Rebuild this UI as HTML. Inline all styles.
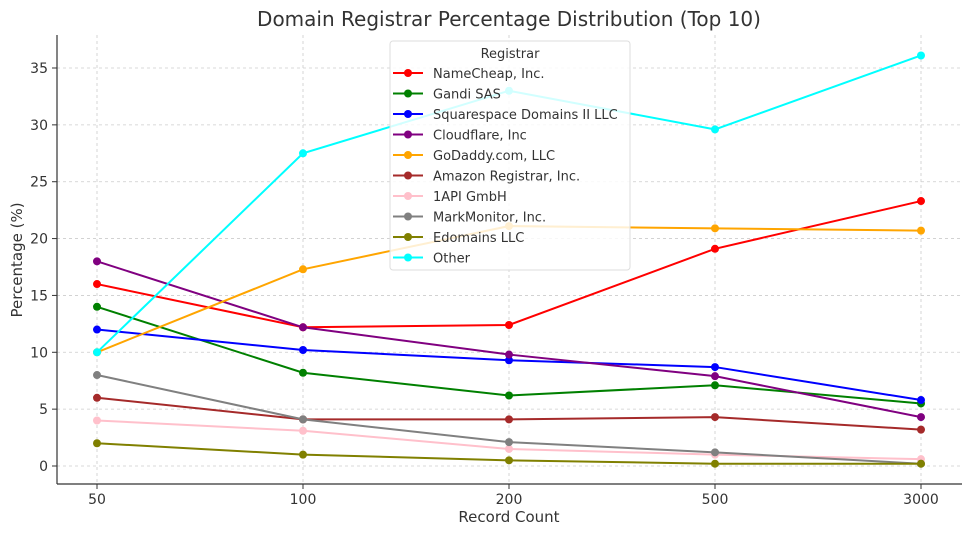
<!DOCTYPE html>
<html><head><meta charset="utf-8"><style>
body{margin:0;background:#fff;font-family:"Liberation Sans","DejaVu Sans",sans-serif}
svg text{font-family:"DejaVu Sans","Liberation Sans",sans-serif}
</style></head><body>
<svg id="c" width="972" height="536" xmlns="http://www.w3.org/2000/svg"></svg>
<script>
const categories=["50","100","200","500","3000"];
const yTicks=[0,5,10,15,20,25,30,35];
const seriesNames=["NameCheap, Inc.","Gandi SAS","Squarespace Domains II LLC","Cloudflare, Inc","GoDaddy.com, LLC","Amazon Registrar, Inc.","1API GmbH","MarkMonitor, Inc.","Edomains LLC","Other"];
const seriesColors=["#ff0000","#008000","#0000ff","#800080","#ffa500","#a52a2a","#ffc0cb","#808080","#808000","#00ffff"];
const nameCheap=[16,12.2,12.4,19.1,23.3];
const gandi=[14,8.2,6.2,7.1,5.5];
const squarespace=[12,10.2,9.3,8.7,5.8];
const cloudflare=[18,12.2,9.8,7.9,4.3];
const goDaddy=[10,17.3,21.1,20.9,20.7];
const amazon=[6,4.1,4.1,4.3,3.2];
const oneApi=[4,3.1,1.5,1.0,0.6];
const markMonitor=[8,4.1,2.1,1.2,0.2];
const edomains=[2,1.0,0.5,0.2,0.2];
const other=[10,27.5,33,29.6,36.1];
const seriesValues=[nameCheap,gandi,squarespace,cloudflare,goDaddy,amazon,oneApi,markMonitor,edomains,other];

const svg=document.getElementById('c');const NS="http://www.w3.org/2000/svg";
function mk(t,a,p){const e=document.createElementNS(NS,t);for(const k in a)e.setAttribute(k,a[k]);(p||svg).appendChild(e);return e;}
const L=57,R=962,T=35,B=484;
const x0=97,x1=921;
function xs(i){return x0+(x1-x0)*i/(categories.length-1);}
function ys(v){return 466-v*(466-68)/35;}
let t;
t=mk('text',{x:509,y:26,'text-anchor':'middle','font-size':20,fill:'#333'});t.textContent="Domain Registrar Percentage Distribution (Top 10)";


const grid=mk('g',{});


yTicks.forEach(v=>{const y=ys(v);mk('line',{x1:L,x2:R,y1:y,y2:y,stroke:'#ccc','stroke-dasharray':'3,3','stroke-width':0.8},grid);
mk('line',{x1:L-5,x2:L,y1:y,y2:y,stroke:'#333'});
const tx=mk('text',{x:L-9,y:y+5,'text-anchor':'end','font-size':14,fill:'#333'});tx.textContent=v;

});
categories.forEach((c,i)=>{const x=xs(i);mk('line',{x1:x,x2:x,y1:T,y2:B,stroke:'#ccc','stroke-dasharray':'3,3','stroke-width':0.8},grid);
mk('line',{x1:x,x2:x,y1:B,y2:B+5,stroke:'#333'});
const tx=mk('text',{x:x,y:B+20,'text-anchor':'middle','font-size':14,fill:'#333'});tx.textContent=c;

});
mk('line',{x1:L,x2:L,y1:T,y2:B,stroke:'#333','stroke-width':1.2});
mk('line',{x1:L,x2:R,y1:B,y2:B,stroke:'#333','stroke-width':1.2});
t=mk('text',{x:509,y:522,'text-anchor':'middle','font-size':15,fill:'#333'});t.textContent="Record Count";


t=mk('text',{x:22,y:260,'text-anchor':'middle','font-size':15,fill:'#333',transform:'rotate(-90 22 260)'});t.textContent="Percentage (%)";


seriesValues.forEach((vals,s)=>{const g=mk('g',{});


mk('polyline',{points:vals.map((v,i)=>xs(i)+','+ys(v)).join(' '),fill:'none',stroke:seriesColors[s],'stroke-width':2},g);
vals.forEach((v,i)=>{const c=mk('circle',{cx:xs(i),cy:ys(v),r:4,fill:seriesColors[s]},g);

});});
const lg=mk('g',{});


mk('rect',{x:390,y:41,width:240,height:229,rx:3,fill:'rgba(255,255,255,0.82)',stroke:'#ddd'},lg);
t=mk('text',{x:510,y:58,'text-anchor':'middle','font-size':13,fill:'#333'},lg);t.textContent="Registrar";
seriesNames.forEach((n,s)=>{const y=73+s*20.5;const e=mk('g',{},lg);


mk('line',{x1:393,x2:423,y1:y,y2:y,stroke:seriesColors[s],'stroke-width':2},e);
mk('circle',{cx:408,cy:y,r:4,fill:seriesColors[s]},e);
const tx=mk('text',{x:433,y:y+5,'font-size':13,fill:'#333'},e);tx.textContent=n;});
</script>
</body></html>
